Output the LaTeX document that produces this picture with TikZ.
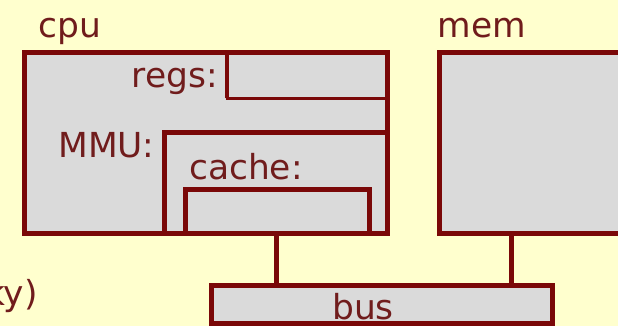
\documentclass[tikz,border=0pt]{standalone}
\usepackage{fontspec}
\setmainfont{DejaVu Sans}
\definecolor{wine}{RGB}{122,8,8}
\definecolor{inkred}{RGB}{112,28,28}
\definecolor{paper}{RGB}{255,255,206}
\definecolor{boxgray}{RGB}{218,218,218}
\tikzset{
  unit/.style={draw=wine, fill=boxgray, line width=0.125cm, rectangle,
    inner sep=0pt, outer sep=0pt, anchor=south west},
  lbl/.style={text=inkred, inner sep=0pt, font=\fontsize{24.5}{26}\selectfont},
  wire/.style={draw=wine, line width=0.125cm}
}
\begin{document}
\begin{tikzpicture}
    \fill[paper] (0, 0) rectangle (15.45, 8.15);
    \useasboundingbox (0, 0) rectangle (15.45, 8.15);
    \clip (0, 0) rectangle (15.45, 8.15);

    % processor with its parts
    \node[unit, minimum width=9.08cm, minimum height=4.53cm] (cpu) at (0.61, 2.31) {};
    \node[unit, line width=0.06cm, minimum width=4.01cm, minimum height=1.15cm] (regs) at (5.68, 5.69) {};
    \draw[wire, line width=0.1cm] (regs.south west) -- (regs.north west);
    \node[unit, minimum width=5.58cm, minimum height=2.52cm] (mmu) at (4.11, 2.31) {};
    \node[unit, minimum width=4.61cm, minimum height=1.10cm] (cache) at (4.63, 2.31) {};
    \draw[wire] (cpu.north west) rectangle (cpu.south east);

    % memory and bus
    \node[unit, minimum width=4.80cm, minimum height=4.53cm] (mem) at (10.99, 2.31) {};
    \node[unit, minimum width=8.52cm, minimum height=0.96cm] (bus) at (5.29, 0.05) {};

    \coordinate (cpuport) at (6.9, 2.31);
    \coordinate (memport) at (12.78, 2.31);
    \draw[wire] (cpuport) -- (cpuport |- bus.north);
    \draw[wire] (memport) -- (memport |- bus.north);

    \node[lbl, anchor=base west] (cpulbl) at (0.95, 7.2) {cpu};
    \node[lbl, anchor=base west] (memlbl) at (10.93, 7.2) {mem};
    \node[lbl, anchor=base east] (regslbl) at (5.45, 5.95) {regs:};
    \node[lbl, anchor=base west] (mmulbl) at (1.45, 4.22) {MMU:};
    \node[lbl, anchor=base west] (cachelbl) at (4.72, 3.65) {cache:};
    \node[lbl, anchor=base west] (buslbl) at (8.3, 0.17) {bus};
    \node[lbl, anchor=base east] (tail) at (0.95, 0.52) {ky)};
\end{tikzpicture}
\end{document}
